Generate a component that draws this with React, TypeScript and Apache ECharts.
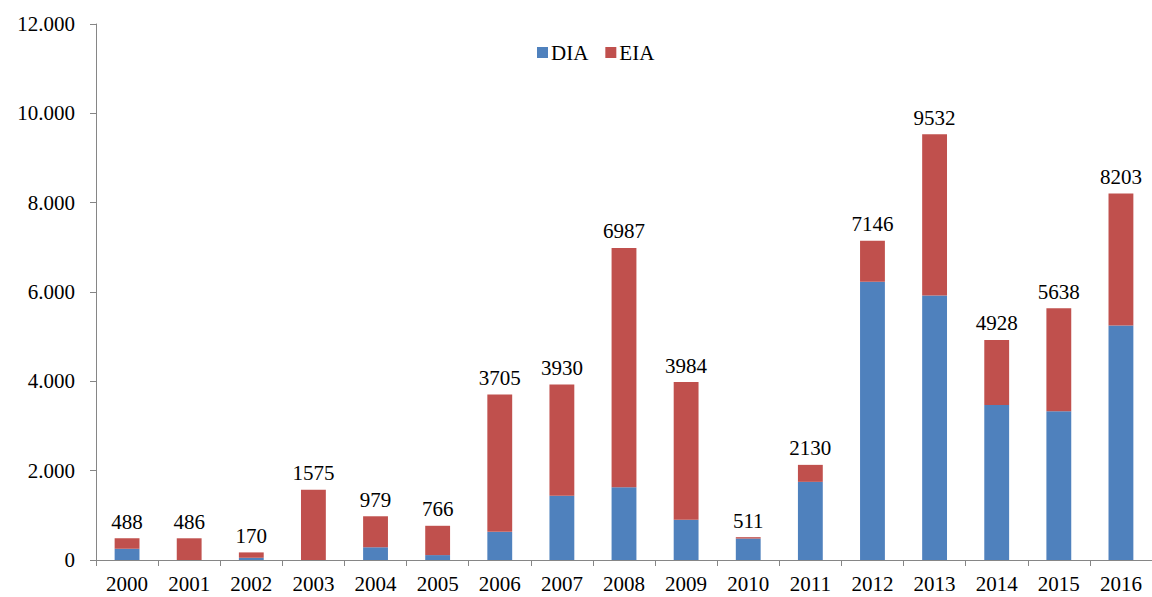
import React, { useEffect, useRef } from "react";
import * as echarts from "echarts";

const years = ["2000","2001","2002","2003","2004","2005","2006","2007","2008","2009","2010","2011","2012","2013","2014","2015","2016"];
const totals = [488, 486, 170, 1575, 979, 766, 3705, 3930, 6987, 3984, 511, 2130, 7146, 9532, 4928, 5638, 8203];
const dia = [250, 0, 50, 0, 285, 110, 630, 1440, 1630, 900, 480, 1750, 6230, 5920, 3470, 3330, 5250];
const eia = totals.map((t, i) => t - dia[i]);
const yTicks = [0, 2000, 4000, 6000, 8000, 10000, 12000];

export default function App() {
  const ref = useRef<HTMLDivElement>(null);
  useEffect(() => {
    const chart = echarts.init(ref.current!, undefined, { renderer: "svg" });
    const font = "'Liberation Serif', 'Times New Roman', serif";
    const fs = 21;
    chart.setOption({
      animation: false,
      textStyle: { fontFamily: font },
      legend: {
        data: ["DIA", "EIA"],
        top: 37,
        left: 532,
        itemWidth: 11,
        itemHeight: 11,
        itemGap: 17,
        icon: "rect",
        textStyle: { fontFamily: font, fontSize: fs, color: "#000", padding: [0, 0, 0, -2] },
      },
      grid: { left: 96, right: -8, top: 24, bottom: 37, containLabel: false },
      xAxis: {
        type: "category",
        data: years,
        axisLine: { lineStyle: { color: "#868686", width: 1 } },
        axisTick: { show: true, length: 6, lineStyle: { color: "#868686" }, alignWithLabel: false },
        axisLabel: { color: "#000", fontSize: fs, fontFamily: font, margin: 13 },
      },
      yAxis: {
        type: "value",
        min: yTicks[0],
        max: yTicks[yTicks.length - 1],
        interval: 2000,
        axisLine: { show: true, lineStyle: { color: "#868686", width: 1 } },
        axisTick: { show: true, length: 6, lineStyle: { color: "#868686" } },
        splitLine: { show: false },
        axisLabel: {
          color: "#000",
          fontSize: fs,
          fontFamily: font,
          margin: 21,
          formatter: (v: number) => (v === 0 ? "0" : v.toString().replace(/\B(?=(\d{3})+(?!\d))/g, ".")),
        },
      },
      series: [
        {
          name: "DIA",
          type: "bar",
          stack: "s",
          data: dia,
          barWidth: "40%",
          itemStyle: { color: "#4F81BD" },
        },
        {
          name: "EIA",
          type: "bar",
          stack: "s",
          data: eia,
          barWidth: "40%",
          itemStyle: { color: "#C0504D" },
          label: {
            show: true,
            position: "top",
            distance: 6,
            color: "#000",
            fontSize: fs,
            fontFamily: font,
            formatter: (p: any) => String(totals[p.dataIndex]),
          },
        },
      ],
    });
    return () => chart.dispose();
  }, []);
  return (
    <div
      ref={ref}
      style={{ position: "absolute", left: 0, top: 0, width: 1152, height: 597, background: "#fff" }}
    />
  );
}
